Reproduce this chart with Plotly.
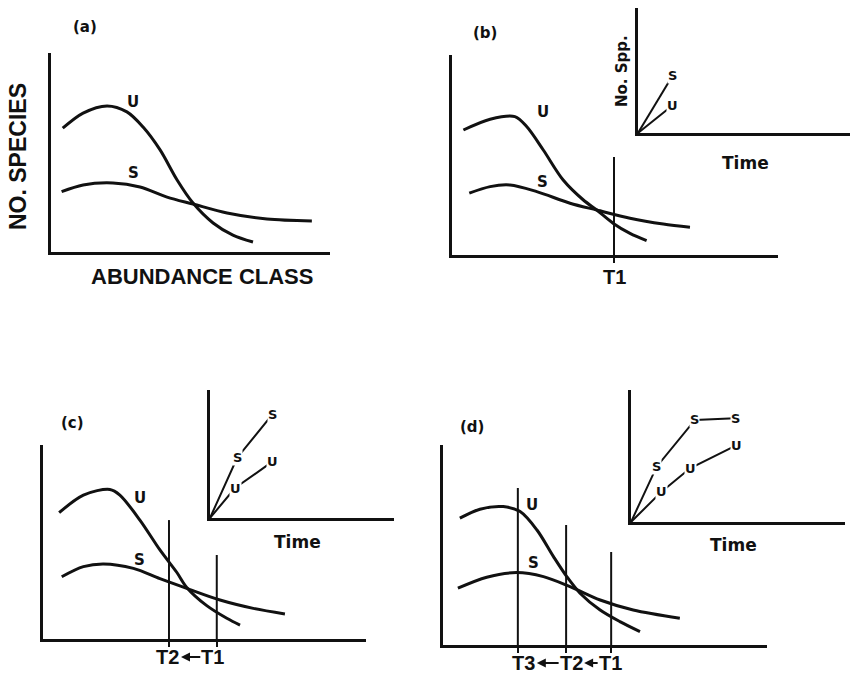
import plotly.graph_objects as go

W, H = 852, 675

# ---- panel (a): abundance class vs number of species ----
A_U_X = [0.42, 1.15, 2.01, 2.72, 3.30, 3.91, 4.52, 5.09, 5.81, 6.52, 7.24]
A_U_Y = [6.22, 6.98, 7.34, 7.04, 6.28, 5.13, 3.62, 2.46, 1.46, 0.85, 0.50]
A_S_X = [0.38, 1.15, 2.22, 3.19, 4.16, 5.09, 6.31, 7.74, 9.35]
A_S_Y = [3.03, 3.37, 3.47, 3.27, 2.76, 2.41, 1.96, 1.66, 1.56]

# ---- panel (b) ----
B_U_X = [0.35, 1.17, 1.93, 2.29, 2.80, 3.41, 4.03, 4.44, 4.95, 5.46, 5.97]
B_U_Y = [6.25, 6.79, 6.92, 6.42, 5.25, 3.75, 2.75, 2.25, 1.58, 1.08, 0.72]
B_S_X = [0.53, 1.17, 1.78, 2.60, 3.62, 4.44, 5.46, 6.48, 7.30]
B_S_Y = [3.09, 3.42, 3.50, 3.17, 2.59, 2.25, 1.84, 1.55, 1.39]
B_T_X = [4.97]
B_T_TOP = [4.9]
B_T_TEXT = ["T1"]

# ---- panel (c) ----
C_U_X = [0.50, 1.25, 2.07, 2.38, 3.00, 3.62, 4.14, 4.45, 5.07, 5.69, 6.10]
C_U_Y = [6.51, 7.42, 7.71, 7.42, 6.13, 4.59, 3.44, 2.66, 1.72, 1.07, 0.72]
C_S_X = [0.58, 1.25, 1.87, 2.80, 3.62, 4.45, 5.48, 6.51, 7.49]
C_S_Y = [3.21, 3.73, 3.87, 3.64, 3.11, 2.61, 2.01, 1.58, 1.29]
C_T_X = [3.90, 5.38]
C_T_TOP = [6.13, 4.33]
C_T_TEXT = ["T2", "T1"]

# ---- panel (d) ----
D_U_X = [0.52, 1.14, 1.86, 2.38, 2.90, 3.41, 3.82, 4.23, 4.85, 5.46, 6.08]
D_U_Y = [6.34, 6.79, 6.92, 6.67, 5.75, 4.42, 3.42, 2.59, 1.75, 1.17, 0.67]
D_S_X = [0.46, 1.35, 2.27, 3.10, 3.92, 4.85, 5.87, 7.31]
D_S_Y = [2.84, 3.39, 3.62, 3.42, 2.92, 2.25, 1.75, 1.34]
D_T_X = [2.31, 3.80, 5.19]
D_T_TOP = [7.85, 6.00, 4.65]
D_T_TEXT = ["T3", "T2", "T1"]

# ---- insets: number of species through time ----
IB_S_X = [0, 1.65]
IB_S_Y = [0, 4.64]
IB_U_X = [0, 1.65]
IB_U_Y = [0, 2.24]
IC_S_X = [0, 1.47, 3.37]
IC_S_Y = [0, 4.69, 8.05]
IC_U_X = [0, 1.36, 3.37]
IC_U_Y = [0, 2.34, 4.38]
ID_S_X = [0, 1.20, 2.99, 4.86]
ID_S_Y = [0, 4.19, 7.73, 7.86]
ID_U_X = [0, 1.43, 2.76, 4.94]
ID_U_Y = [0, 2.30, 4.07, 5.83]

INK = "#111111"
BOLD_BIG = "Liberation Sans"
BOLD_SMALL = "DejaVu Sans"

# subplot boxes in pixels: (left, right, top, bottom)
BOXES = {
    1: (51, 330, 53, 252),    # (a)
    2: (452, 778, 55, 255),   # (b)
    3: (638, 850, 8, 133),    # (b) inset
    4: (43, 366, 445, 639),   # (c)
    5: (210, 394, 390, 518),  # (c) inset
    6: (443, 767, 445, 645),  # (d)
    7: (631, 845, 390, 522),  # (d) inset
}
TICKS = {2: B_T_X, 4: C_T_X, 6: D_T_X}

fig = go.Figure()
layout = dict(
    width=W, height=H, autosize=False,
    margin=dict(l=0, r=0, t=0, b=0),
    paper_bgcolor="white", plot_bgcolor="rgba(0,0,0,0)",
    showlegend=False,
)

for k, (l, r, t, b) in BOXES.items():
    sx = "" if k == 1 else str(k)
    ticks = TICKS.get(k)
    layout["xaxis" + sx] = dict(
        domain=[l / W, r / W], range=[0, 10], anchor="y" + sx,
        showgrid=False, zeroline=False, showline=True,
        linecolor=INK, linewidth=2.5,
        showticklabels=False,
        ticks="outside" if ticks else "", tickvals=ticks or [],
        ticklen=5, tickwidth=2, tickcolor=INK,
        fixedrange=True,
    )
    layout["yaxis" + sx] = dict(
        domain=[(H - b) / H, (H - t) / H], range=[0, 10], anchor="x" + sx,
        showgrid=False, zeroline=False, showline=True,
        linecolor=INK, linewidth=2.5, showticklabels=False, ticks="",
        fixedrange=True,
    )


def ax(k):
    return ("x", "y") if k == 1 else ("x" + str(k), "y" + str(k))


def curve(k, xs, ys, width=3, spline=True):
    xa, ya = ax(k)
    fig.add_trace(go.Scatter(
        x=xs, y=ys, xaxis=xa, yaxis=ya, mode="lines",
        line=dict(color=INK, width=width,
                  shape="spline" if spline else "linear", smoothing=0.9),
        hoverinfo="skip", cliponaxis=False,
    ))


def vlines(k, xs, tops):
    for x, top in zip(xs, tops):
        curve(k, [x, x], [0, top], width=2, spline=False)


annotations = []


def bold(family, size):
    return dict(family=family, size=size, color=INK, weight="bold")


def label(k, x, y, text, size=15, bg=None):
    xa, ya = ax(k)
    annotations.append(dict(
        x=x, y=y, xref=xa, yref=ya, text=text, showarrow=False,
        font=bold(BOLD_SMALL, size), bgcolor=bg, borderpad=0,
    ))


def ptext(px, py, text, size, family=BOLD_SMALL, angle=0):
    annotations.append(dict(
        x=px / W, y=1 - py / H, xref="paper", yref="paper",
        text=text, showarrow=False, textangle=angle,
        font=bold(family, size),
        xanchor="center", yanchor="middle",
    ))


def time_marks(k, xs, texts, shifts, yshift, half=12):
    """Labels under each T line, with arrows pointing back to the earlier time."""
    xa, ya = ax(k)
    l, r = BOXES[k][0], BOXES[k][1]
    unit = (r - l) / 10.0
    for x, t, s in zip(xs, texts, shifts):
        annotations.append(dict(
            x=x, y=0, xref=xa, yref=ya, text=t, showarrow=False,
            xshift=s, yshift=yshift, yanchor="middle",
            font=bold(BOLD_BIG, 20),
        ))
    for i in range(len(xs) - 1):
        head = shifts[i] + half + 1
        tail = (xs[i + 1] - xs[i]) * unit + shifts[i + 1] - half + 1
        annotations.append(dict(
            x=xs[i], y=0, xref=xa, yref=ya, text="",
            showarrow=True, arrowhead=2, arrowsize=0.9, arrowwidth=2,
            arrowcolor=INK, axref="pixel", ayref="pixel",
            ax=tail - head, ay=0, standoff=0, startstandoff=0,
            xshift=head, yshift=yshift,
        ))


# main panels: U and S abundance curves
curve(1, A_U_X, A_U_Y)
curve(1, A_S_X, A_S_Y)
label(1, 2.94, 7.54, "U")
label(1, 2.94, 3.97, "S")

curve(2, B_U_X, B_U_Y)
curve(2, B_S_X, B_S_Y)
vlines(2, B_T_X, B_T_TOP)
label(2, 2.79, 7.15, "U")
label(2, 2.79, 3.65, "S")
time_marks(2, B_T_X, B_T_TEXT, [0], -22)

curve(4, C_U_X, C_U_Y)
curve(4, C_S_X, C_S_Y)
vlines(4, C_T_X, C_T_TOP)
label(4, 3.00, 7.27, "U")
label(4, 3.00, 4.07, "S")
time_marks(4, C_T_X, C_T_TEXT, [-1, -4], -18)

curve(6, D_U_X, D_U_Y)
curve(6, D_S_X, D_S_Y)
vlines(6, D_T_X, D_T_TOP)
label(6, 2.75, 7.00, "U")
label(6, 2.78, 4.10, "S")
time_marks(6, D_T_X, D_T_TEXT, [6, 5, -1], -18)

# insets: species counts at successive times
for k, sx, sy, ux, uy in [
    (3, IB_S_X, IB_S_Y, IB_U_X, IB_U_Y),
    (5, IC_S_X, IC_S_Y, IC_U_X, IC_U_Y),
    (7, ID_S_X, ID_S_Y, ID_U_X, ID_U_Y),
]:
    curve(k, sx, sy, width=2, spline=False)
    curve(k, ux, uy, width=2, spline=False)
    for x, y in zip(sx[1:], sy[1:]):
        label(k, x, y, "S", size=13, bg="white")
    for x, y in zip(ux[1:], uy[1:]):
        label(k, x, y, "U", size=13, bg="white")

# panel tags and axis wording
ptext(85, 27, "(a)", 15)
ptext(485, 33, "(b)", 15)
ptext(72, 423, "(c)", 15)
ptext(472, 427, "(d)", 15)
ptext(18, 157, "NO. SPECIES", 23, BOLD_BIG, -90)
ptext(202, 276, "ABUNDANCE CLASS", 22, BOLD_BIG)
ptext(622, 71, "No. Spp.", 15, BOLD_SMALL, -90)
ptext(745, 163, "Time", 17)
ptext(297, 542, "Time", 17)
ptext(733, 545, "Time", 17)

layout["annotations"] = annotations
fig.update_layout(**layout)
fig.write_html("out.html")
